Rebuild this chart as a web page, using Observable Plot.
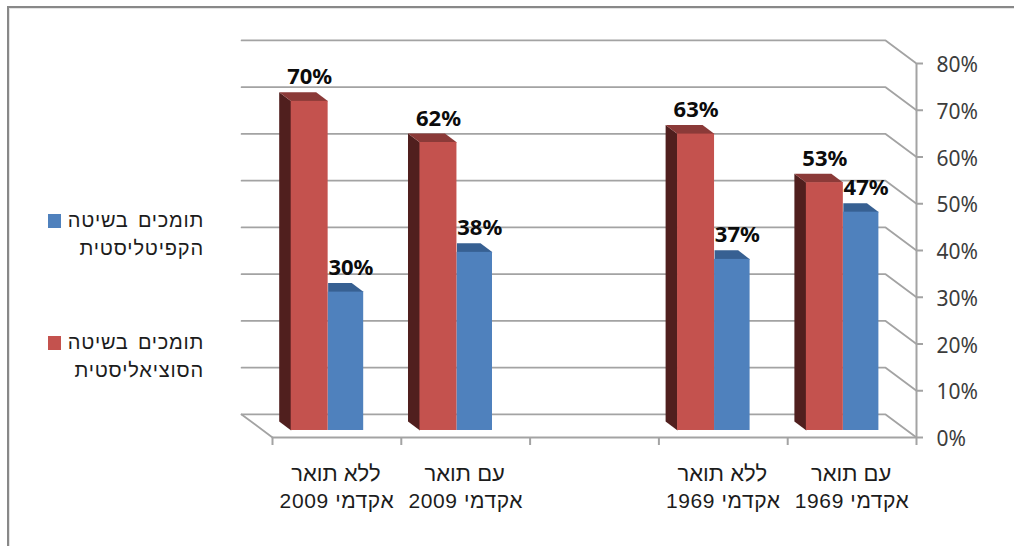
<!DOCTYPE html>
<html lang="he">
<head>
<meta charset="utf-8">
<script src="https://cdn.jsdelivr.net/npm/d3@7"></script>
<script src="https://cdn.jsdelivr.net/npm/@observablehq/plot@0.6"></script>
<style>
  html, body { margin: 0; background: #fff; }
  #frame { position: relative; width: 1014px; height: 546px; overflow: hidden; }
  #frame::before { content: ""; position: absolute; left: 7px; top: 6px; right: 0; bottom: 0;
    border-top: 2px solid #888; border-left: 2px solid #888; box-shadow: inset 1px 1px 0 #e4e4e4; z-index: 2; pointer-events: none; }
  #legend { position: absolute; left: 48px; top: 0; width: 156px; height: 546px; z-index: 3;
    font: 20px "Liberation Sans", sans-serif; color: #1c1c1c; direction: rtl; }
  .entry { position: absolute; right: 0; width: 156px; line-height: 27.5px; text-align: right; white-space: pre; }
  .entry .l1 { display: block; letter-spacing: 0.75px; word-spacing: 3px; }
  .entry .l2 { display: block; letter-spacing: 0.85px; }
  .swatch { position: absolute; left: 0; top: 7px; width: 13px; height: 14px; }
  .rtl1 { direction: rtl; }
  .rtl2 { direction: rtl; letter-spacing: 0.6px; }
</style>
</head>
<body>
<div id="frame"><div id="legend"></div></div>
<script>
// ----- data -----
const degreeLabels = ["ללא תואר", "עם תואר", "", "ללא תואר", "עם תואר"];
const yearLabels = ["אקדמי 2009", "אקדמי 2009", "", "אקדמי 1969", "אקדמי 1969"];
const socialistSupport  = [70.4, 61.6, null, 63.4, 53];
const capitalistSupport = [29.6, 38.1, null, 36.6, 46.7];
const seriesTop = ["תומכים בשיטה", "תומכים בשיטה"];
const seriesBottom = ["הקפיטליסטית", "הסוציאליסטית"];
const yTicks = [0, 10, 20, 30, 40, 50, 60, 70, 80];

// ----- styles and 3-D geometry (in scale units) -----
const RED = "#c4524e", RED_SIDE = "#501f1e", RED_TOP = "#8b3a38";
const BLUE = "#4f81bd", BLUE_TOP = "#376092";
const GREY = "#a3a3a3";
const wallX = 0.24, wallY = 4.93;     // offset of the back wall
const sideX = 0.093, sideY = 1.93;    // depth of a bar
const floorY = 1.5;                   // lift of the bars' front edge above the axis
const barStart = 0.145, barW = 0.287, barW2 = 0.276;

const slots = degreeLabels.map((c, i) => i);
const labelled = slots.filter(i => degreeLabels[i]);
const bars = slots.filter(i => socialistSupport[i] != null).map(i => ({
  i, red: socialistSupport[i], blue: capitalistSupport[i]
}));

const poly = (key, pts) => pts.map(([x, y]) => ({key, x, y}));
const redFront = [], blueFront = [], redSide = [], redTop = [], blueTop = [];
bars.forEach(({i, red, blue}) => {
  const a = i + barStart, b = a + barW, c = b + barW2;
  const rt = floorY + red, bt = floorY + blue;
  redFront.push({x1: a, x2: b, y1: floorY, y2: rt});
  blueFront.push({x1: b, x2: c, y1: floorY, y2: bt});
  redSide.push(...poly(i, [[a, floorY], [a, rt], [a - sideX, rt + sideY], [a - sideX, floorY + sideY]]));
  redTop.push(...poly(i, [[a, rt], [b, rt], [b - sideX, rt + sideY], [a - sideX, rt + sideY]]));
  blueTop.push(...poly(i, [[b, bt], [c, bt], [c - sideX, bt + sideY], [b, bt + sideY]]));
});

const walls = yTicks.flatMap(v => poly(v, [
  [-wallX, v + wallY], [5 - wallX, v + wallY], [5, v]
]));
const floorLeft = poly("floor", [[-wallX, wallY], [0, 0]]);
const valueText = {fontSize: 22, fontWeight: 700, fontFamily: "Noto Sans", fill: "#0c0c0c", lineAnchor: "bottom"};

const chart = Plot.plot({
  width: 1014,
  height: 546,
  marginLeft: 272,
  marginRight: 98,
  marginTop: 63,
  marginBottom: 109,
  style: {background: "transparent", overflow: "visible"},
  x: {type: "linear", domain: [0, 5], axis: null},
  y: {type: "linear", domain: [0, 80], axis: null},
  marks: [
    Plot.line(walls, {x: "x", y: "y", z: "key", stroke: GREY, strokeWidth: 1.8, curve: "linear"}),
    Plot.line(floorLeft, {x: "x", y: "y", z: "key", stroke: GREY, strokeWidth: 1.8}),
    Plot.ruleY([0], {stroke: GREY, strokeWidth: 2}),
    Plot.ruleX([5], {stroke: GREY, strokeWidth: 2}),
    Plot.axisX({ticks: [0, 1, 2, 3, 4, 5], tickFormat: () => "", tickSize: 8, stroke: GREY, strokeWidth: 2, label: null}),
    Plot.axisY({anchor: "right", ticks: yTicks, tickFormat: () => "", tickSize: 6, stroke: GREY, strokeWidth: 2, label: null}),
    Plot.axisY({
      anchor: "right", ticks: yTicks, tickFormat: d => d + "%", tickSize: 0, tickPadding: 20, dy: 2,
      fill: "#3c3c3c", stroke: "none", label: null, fontSize: 21, fontFamily: "Noto Sans"
    }),
    Plot.line(redSide, {x: "x", y: "y", z: "key", fill: RED_SIDE}),
    Plot.line(redTop, {x: "x", y: "y", z: "key", fill: RED_TOP}),
    Plot.line(blueTop, {x: "x", y: "y", z: "key", fill: BLUE_TOP}),
    Plot.rect(blueFront, {x1: "x1", x2: "x2", y1: "y1", y2: "y2", fill: BLUE}),
    Plot.rect(redFront, {x1: "x1", x2: "x2", y1: "y1", y2: "y2", fill: RED}),
    Plot.text(bars, {
      x: d => d.i + barStart + barW / 2, y: d => floorY + d.red,
      text: d => d3.format(".0f")(d.red) + "%", dy: -17, ...valueText
    }),
    Plot.text(bars, {
      x: d => d.i + barStart + barW + barW2 / 2, y: d => floorY + d.blue,
      text: d => d3.format(".0f")(d.blue) + "%", dy: -17, dx: 5, ...valueText
    }),
    Plot.text(labelled, {
      x: i => i + 0.5, y: () => 0, text: i => degreeLabels[i], dx: -1,
      lineAnchor: "top", dy: 28, fontSize: 22, fontFamily: "Liberation Sans", fill: "#1c1c1c", className: "rtl1"
    }),
    Plot.text(labelled, {
      x: i => i + 0.5, y: () => 0, text: i => yearLabels[i],
      lineAnchor: "top", dy: 56, fontSize: 21, fontFamily: "Liberation Sans", fill: "#1c1c1c", className: "rtl2"
    })
  ]
});
const frame = document.getElementById("frame");
frame.insertBefore(chart, frame.firstChild);

// ----- legend beside the chart -----
const legend = document.getElementById("legend");
[[0, BLUE, 207], [1, RED, 329]].forEach(([k, color, top]) => {
  const e = document.createElement("div");
  e.className = "entry";
  e.style.top = top + "px";
  const a = document.createElement("span"); a.className = "l1"; a.textContent = seriesTop[k];
  const b = document.createElement("span"); b.className = "l2"; b.textContent = seriesBottom[k];
  const s = document.createElement("span"); s.className = "swatch"; s.style.background = color;
  e.append(a, b, s);
  legend.appendChild(e);
});
</script>
</body>
</html>
